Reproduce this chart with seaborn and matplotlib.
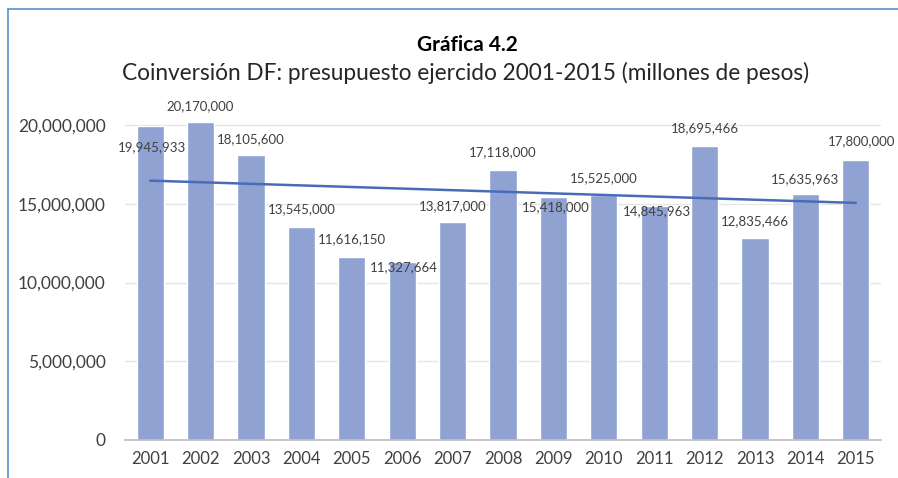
import numpy as np
import pandas as pd
import matplotlib
matplotlib.use("Agg")
import matplotlib.pyplot as plt
import seaborn as sns
from matplotlib.lines import Line2D

# Datos
anios = ['2001', '2002', '2003', '2004', '2005', '2006', '2007', '2008',
         '2009', '2010', '2011', '2012', '2013', '2014', '2015']
presupuesto = [19945933, 20170000, 18105600, 13545000, 11616150, 11327664,
               13817000, 17118000, 15418000, 15525000, 14845963, 18695466,
               12835466, 15635963, 17800000]
ticks_y = [0, 5000000, 10000000, 15000000, 20000000]

# Desplazamiento de las etiquetas (pixeles, respecto a la cima de la barra)
desp_y = [-21, 16, 16, 18, 18, -6, 16, 18, -10, 17, -5, 17, 17, 15, 18]
desp_x = [2, 0, 0, 0, 0, 2, 0, 0, 2, 0, 3, 0, 0, 0, 6]

df = pd.DataFrame({'anio': anios, 'presupuesto': presupuesto})

sns.set_theme(style='white')
plt.rcParams['font.family'] = ['Lato', 'DejaVu Sans']

fig = plt.figure(figsize=(8.98, 4.78), dpi=100)
ax = fig.add_axes([125 / 898, 38 / 478, 756 / 898, (440 - 109.25) / 478])

sns.barplot(data=df, x='anio', y='presupuesto', color='#8FA2D2',
            saturation=1, width=0.54, ax=ax)

# Linea de tendencia
idx = np.arange(len(presupuesto))
coef = np.polyfit(idx, presupuesto, 1)
ax.plot(idx, np.polyval(coef, idx), color='#4A6CB8', lw=1.8)

# Etiquetas de datos
for i, v in enumerate(presupuesto):
    ax.annotate(f'{v:,}', (i, v), xytext=(desp_x[i] * 0.72, desp_y[i] * 0.72),
                textcoords='offset points', ha='center', va='center',
                fontsize=9.5, color='#404040')

ax.set_xlim(-0.5, len(anios) - 0.5)
ax.set_ylim(0, 21000000)
ax.set_yticks(ticks_y)
ax.set_yticklabels([f'{t:,}' for t in ticks_y])
ax.yaxis.grid(True, color='#E6E6E6', lw=1)
ax.set_axisbelow(True)
ax.set_xlabel('')
ax.set_ylabel('')
for s in ['top', 'right', 'left']:
    ax.spines[s].set_visible(False)
ax.spines['bottom'].set_color('#BFBFBF')
ax.tick_params(axis='y', length=0, pad=14, labelsize=12.5, labelcolor='#404040')
ax.tick_params(axis='x', length=0, pad=8, labelsize=12, labelcolor='#404040')

fig.text(467 / 898, 1 - 45 / 478, 'Gráfica 4.2', ha='center', va='center',
         fontsize=15, fontweight='bold', color='black')
fig.text(466 / 898, 1 - 73 / 478,
         'Coinversión DF: presupuesto ejercido 2001-2015 (millones de pesos)',
         ha='center', va='center', fontsize=16.3, color='#262626')

# Marco
fig.add_artist(Line2D([8 / 898, 1], [1 - 9 / 478, 1 - 9 / 478],
                      color='#5B8FC8', lw=1.2))
fig.add_artist(Line2D([8 / 898, 8 / 898], [0, 1 - 9 / 478],
                      color='#5B8FC8', lw=1.2))

fig.savefig('out.png', dpi=100)
